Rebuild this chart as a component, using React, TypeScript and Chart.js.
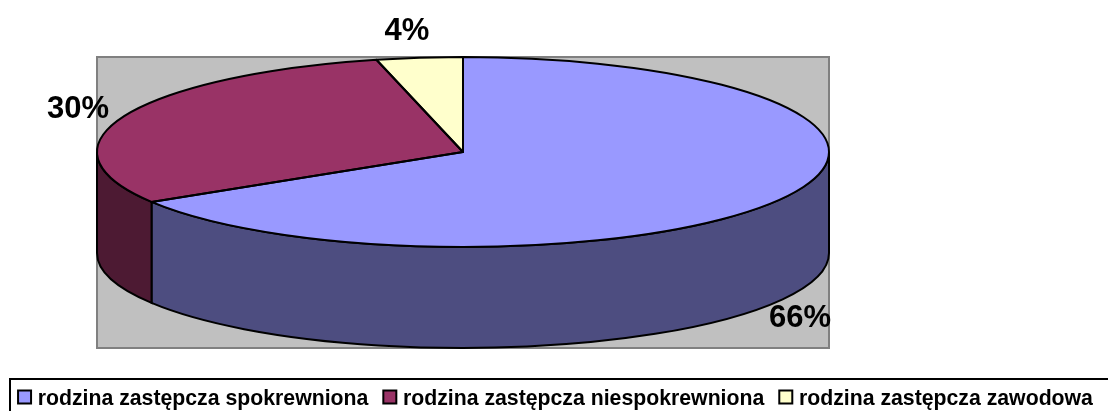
import React, { useEffect, useRef } from "react";
import { Chart, registerables } from "chart.js";

Chart.register(...registerables);

const categories = [
  "rodzina zastępcza spokrewniona",
  "rodzina zastępcza niespokrewniona",
  "rodzina zastępcza zawodowa",
];
const shares = [66.2, 30, 3.8];
const topColors = ["#9999FF", "#993366", "#FFFFCC"];
const wallColors = ["#4D4D80", "#4D1A33", "#808066"];
const labelCenters = [
  [800, 318],
  [78, 109],
  [407, 31],
];

const FONT = '"Liberation Sans", Arial, sans-serif';
const CX = 463;
const CY = 152;
const RX = 366;
const RY = 95;
const DEPTH = 101;

const pie3d = {
  id: "pie3d",
  beforeDatasetsDraw(chart: any) {
    const { ctx } = chart;
    const arcs = chart.getDatasetMeta(0).data;
    // plot backdrop
    ctx.save();
    ctx.fillStyle = "#C0C0C0";
    ctx.strokeStyle = "#808080";
    ctx.lineWidth = 2;
    ctx.fillRect(CX - RX, CY - RY, RX * 2, RY * 2 + DEPTH);
    ctx.strokeRect(CX - RX, CY - RY, RX * 2, RY * 2 + DEPTH);
    // side walls: only the front half of the disc shows
    arcs.forEach((arc: any, i: number) => {
      const from = Math.max(arc.startAngle, 0);
      const to = Math.min(arc.endAngle, Math.PI);
      if (to <= from) return;
      ctx.beginPath();
      ctx.ellipse(CX, CY, RX, RY, 0, from, to);
      ctx.ellipse(CX, CY + DEPTH, RX, RY, 0, to, from, true);
      ctx.closePath();
      ctx.fillStyle = wallColors[i];
      ctx.fill();
      ctx.strokeStyle = "#000";
      ctx.lineWidth = 2;
      ctx.stroke();
    });
    ctx.restore();
    // the library's arcs are drawn flattened onto the ellipse
    const a = arcs[0];
    ctx.save();
    ctx.translate(CX, CY);
    ctx.scale(RX / a.outerRadius, RY / a.outerRadius);
    ctx.translate(-a.x, -a.y);
  },
  afterDatasetsDraw(chart: any) {
    const { ctx } = chart;
    ctx.restore();
    const arcs = chart.getDatasetMeta(0).data;
    ctx.save();
    ctx.strokeStyle = "#000";
    ctx.lineWidth = 2;
    ctx.lineJoin = "round";
    arcs.forEach((arc: any) => {
      ctx.beginPath();
      ctx.moveTo(CX, CY);
      ctx.ellipse(CX, CY, RX, RY, 0, arc.startAngle, arc.endAngle);
      ctx.closePath();
      ctx.stroke();
    });
    // percentage labels
    ctx.fillStyle = "#000";
    ctx.font = `bold 31px ${FONT}`;
    ctx.textAlign = "center";
    ctx.textBaseline = "middle";
    shares.forEach((v, i) => {
      ctx.fillText(`${Math.round(v)}%`, labelCenters[i][0], labelCenters[i][1]);
    });
    ctx.restore();
  },
  afterDraw(chart: any) {
    const { ctx, legend } = chart;
    ctx.save();
    ctx.strokeStyle = "#000";
    ctx.lineWidth = 2;
    ctx.strokeRect(10, 379, 1120, 60);
    legend.legendHitBoxes.forEach((box: any, i: number) => {
      const cy = 397;
      ctx.fillStyle = topColors[i];
      ctx.strokeStyle = "#000";
      ctx.lineWidth = 2;
      ctx.beginPath();
      ctx.rect(box.left + 1, cy - 6.5, 13, 13);
      ctx.fill();
      ctx.stroke();
    });
    ctx.restore();
  },
};

export default function App() {
  const ref = useRef<HTMLCanvasElement>(null);
  useEffect(() => {
    const chart = new Chart(ref.current!, {
      type: "pie",
      data: {
        labels: categories,
        datasets: [
          {
            data: shares,
            backgroundColor: topColors,
            borderWidth: 0,
            clip: false,
          } as any,
        ],
      },
      options: {
        responsive: false,
        animation: false,
        layout: { padding: { left: 2, right: 0, top: 0, bottom: -9 } },
        plugins: {
          tooltip: { enabled: false },
          legend: {
            position: "bottom",
            labels: {
              boxWidth: 10,
              boxHeight: 10,
              padding: 14,
              color: "#000",
              font: { family: FONT, size: 21.25, weight: "bold" },
              generateLabels: (c: any) =>
                c.data.labels.map((text: string, i: number) => ({
                  text,
                  fillStyle: "transparent",
                  strokeStyle: "transparent",
                  lineWidth: 0,
                  hidden: false,
                  index: i,
                })),
            },
          },
        },
      },
      plugins: [pie3d],
    } as any);
    return () => chart.destroy();
  }, []);
  return (
    <div style={{ position: "fixed", left: 0, top: 0, width: 1108, height: 411, background: "#fff" }}>
      <canvas ref={ref} width={1108} height={411} style={{ display: "block" }} />
    </div>
  );
}
